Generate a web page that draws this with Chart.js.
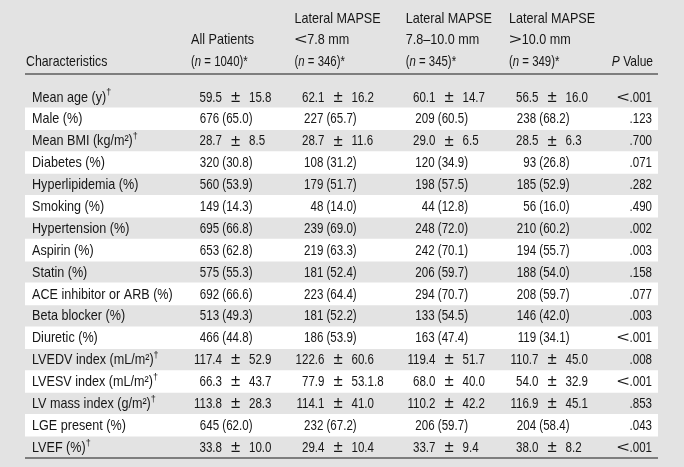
<!DOCTYPE html>
<html><head><meta charset="utf-8">
<script src="https://cdn.jsdelivr.net/npm/chart.js@4.4.1/dist/chart.umd.min.js"></script>
<style>html,body{margin:0;padding:0;background:#e3e3e3;}canvas{display:block;}</style>
</head><body>
<canvas id="c" width="684" height="467"></canvas>
<script>
const characteristics = [
  "Mean age (y)†", "Male (%)", "Mean BMI (kg/m²)†", "Diabetes (%)", "Hyperlipidemia (%)",
  "Smoking (%)", "Hypertension (%)", "Aspirin (%)", "Statin (%)", "ACE inhibitor or ARB (%)",
  "Beta blocker (%)", "Diuretic (%)", "LVEDV index (mL/m²)†", "LVESV index (mL/m²)†",
  "LV mass index (g/m²)†", "LGE present (%)", "LVEF (%)†"
];
const allPatients = [
  "59.5 ± 15.8", "676 (65.0)", "28.7 ± 8.5", "320 (30.8)", "560 (53.9)", "149 (14.3)",
  "695 (66.8)", "653 (62.8)", "575 (55.3)", "692 (66.6)", "513 (49.3)", "466 (44.8)",
  "117.4 ± 52.9", "66.3 ± 43.7", "113.8 ± 28.3", "645 (62.0)", "33.8 ± 10.0"
];
const mapseLow = [
  "62.1 ± 16.2", "227 (65.7)", "28.7 ± 11.6", "108 (31.2)", "179 (51.7)", "48 (14.0)",
  "239 (69.0)", "219 (63.3)", "181 (52.4)", "223 (64.4)", "181 (52.2)", "186 (53.9)",
  "122.6 ± 60.6", "77.9 ± 53.1.8", "114.1 ± 41.0", "232 (67.2)", "29.4 ± 10.4"
];
const mapseMid = [
  "60.1 ± 14.7", "209 (60.5)", "29.0 ± 6.5", "120 (34.9)", "198 (57.5)", "44 (12.8)",
  "248 (72.0)", "242 (70.1)", "206 (59.7)", "294 (70.7)", "133 (54.5)", "163 (47.4)",
  "119.4 ± 51.7", "68.0 ± 40.0", "110.2 ± 42.2", "206 (59.7)", "33.7 ± 9.4"
];
const mapseHigh = [
  "56.5 ± 16.0", "238 (68.2)", "28.5 ± 6.3", "93 (26.8)", "185 (52.9)", "56 (16.0)",
  "210 (60.2)", "194 (55.7)", "188 (54.0)", "208 (59.7)", "146 (42.0)", "119 (34.1)",
  "110.7 ± 45.0", "54.0 ± 32.9", "116.9 ± 45.1", "204 (58.4)", "38.0 ± 8.2"
];
const pValues = [
  "<.001", ".123", ".700", ".071", ".282", ".490", ".002", ".003", ".158", ".077",
  ".003", "<.001", ".008", "<.001", ".853", ".043", "<.001"
];
const headerCharacteristics = ["", "", "Characteristics"];
const headerAll = ["", "All Patients", "(_n_ = 1040)*"];
const headerLow = ["Lateral MAPSE", "<7.8 mm", "(_n_ = 346)*"];
const headerMid = ["Lateral MAPSE", "7.8–10.0 mm", "(_n_ = 345)*"];
const headerHigh = ["Lateral MAPSE", ">10.0 mm", "(_n_ = 349)*"];
const headerP = ["", "", "_P_ Value"];
const rowBand = [1,1,1,1,1,1,1,1,1,1,1,1,1,1,1,1,1];

// ---- layout / style ----
const FONT = '"Liberation Sans", Arial, sans-serif';
const INK = '#161616';
const RULE = '#5e5e5e';
const SIZE = 15;
const valueCols = [
  {vals: allPatients, header: headerAll, hx: 191, right: 252.5, pm: 235.5},
  {vals: mapseLow, header: headerLow, hx: 294.5, right: 356.7, pm: 338},
  {vals: mapseMid, header: headerMid, hx: 405.7, right: 468, pm: 449},
  {vals: mapseHigh, header: headerHigh, hx: 509, right: 569.5, pm: 552}
];

function segs(text) {
  return text.split(/(_[^_]+_|†|<|>)/).filter(s => s.length).map(s => {
    if (s === '†') return {t: s, sup: true};
    if (s === '<' || s === '>') return {t: s, wide: true};
    if (s[0] === '_' && s.length > 1 && s[s.length-1] === '_') return {t: s.slice(1, -1), it: true};
    return {t: s};
  });
}
function fontFor(seg, size) {
  const sz = seg.sup ? size * 0.6 : size;
  return (seg.it ? 'italic ' : '') + sz + 'px ' + FONT;
}
function drawRich(ctx, text, x, y, align, sx, size) {
  const parts = segs(text);
  let total = 0;
  parts.forEach(p => {
    ctx.font = fontFor(p, size);
    p.sx = p.wide ? 1.45 : (p.sup ? 1 : sx);
    p.w = ctx.measureText(p.t).width * p.sx;
    total += p.w;
  });
  let cx = align === 'right' ? x - total : align === 'center' ? x - total / 2 : x;
  parts.forEach(p => {
    ctx.save();
    ctx.font = fontFor(p, size);
    ctx.translate(cx, y + (p.sup ? -4.5 : 0));
    ctx.scale(p.sx, 1);
    ctx.textAlign = 'left';
    ctx.textBaseline = 'middle';
    ctx.fillStyle = INK;
    ctx.fillText(p.t, 0, 0);
    ctx.restore();
    cx += p.w;
  });
}

const tablePlugin = {
  id: 'tableText',
  beforeDraw(chart) {
    const ctx = chart.ctx;
    ctx.save();
    ctx.fillStyle = '#e3e3e3';
    ctx.fillRect(0, 0, chart.width, chart.height);
    ctx.restore();
  },
  afterDatasetsDraw(chart) {
    const ctx = chart.ctx;
    const area = chart.chartArea;
    const ys = chart.scales.y;
    const headerY = [area.top - 67.5, area.top - 46, area.top - 24.5];
    ctx.save();
    ctx.strokeStyle = RULE;
    ctx.lineWidth = 1.3;
    ctx.beginPath();
    ctx.moveTo(area.left, area.top - 12); ctx.lineTo(area.right, area.top - 12);
    ctx.moveTo(area.left, area.bottom); ctx.lineTo(area.right, area.bottom);
    ctx.stroke();
    ctx.restore();
    // headers
    headerCharacteristics.forEach((t, i) => { if (t) drawRich(ctx, t, area.left + 1, headerY[i], 'left', 0.82, SIZE); });
    valueCols.forEach(c => c.header.forEach((t, i) => {
      if (t) drawRich(ctx, t, c.hx, headerY[i], 'left', i === 2 ? 0.76 : 0.84, SIZE);
    }));
    headerP.forEach((t, i) => { if (t) drawRich(ctx, t, area.right - 5, headerY[i], 'right', 0.8, SIZE); });
    // rows
    characteristics.forEach((lab, r) => {
      const y = ys.getPixelForValue(r) + 0.5;
      drawRich(ctx, lab, area.left + 7, y, 'left', 0.84, SIZE);
      valueCols.forEach(c => {
        const v = c.vals[r];
        if (v.indexOf(' ± ') >= 0) {
          const [m, sd] = v.split(' ± ');
          drawRich(ctx, m, c.pm - 13.5, y, 'right', 0.77, SIZE);
          drawRich(ctx, '±', c.pm, y, 'center', 1.05, SIZE + 1);
          drawRich(ctx, sd, c.pm + 13.5, y, 'left', 0.77, SIZE);
        } else {
          drawRich(ctx, v, c.right, y, 'right', 0.77, SIZE);
        }
      });
      drawRich(ctx, pValues[r], area.right - 6, y, 'right', 0.77, SIZE);
    });
  }
};

new Chart(document.getElementById('c'), {
  type: 'bar',
  data: {
    labels: characteristics,
    datasets: [{
      data: rowBand,
      backgroundColor: ctx => (ctx.dataIndex % 2 === 1 ? '#ffffff' : 'rgba(0,0,0,0)'),
      borderWidth: 0,
      barPercentage: 1,
      categoryPercentage: 1
    }]
  },
  options: {
    indexAxis: 'y',
    responsive: false,
    animation: false,
    devicePixelRatio: 1,
    layout: {padding: {top: 86, left: 25, right: 26, bottom: 9}},
    plugins: {legend: {display: false}, tooltip: {enabled: false}},
    scales: {
      x: {type: 'linear', min: 0, max: 1, display: false},
      y: {type: 'category', display: false}
    }
  },
  plugins: [tablePlugin]
});
</script>
</body></html>
